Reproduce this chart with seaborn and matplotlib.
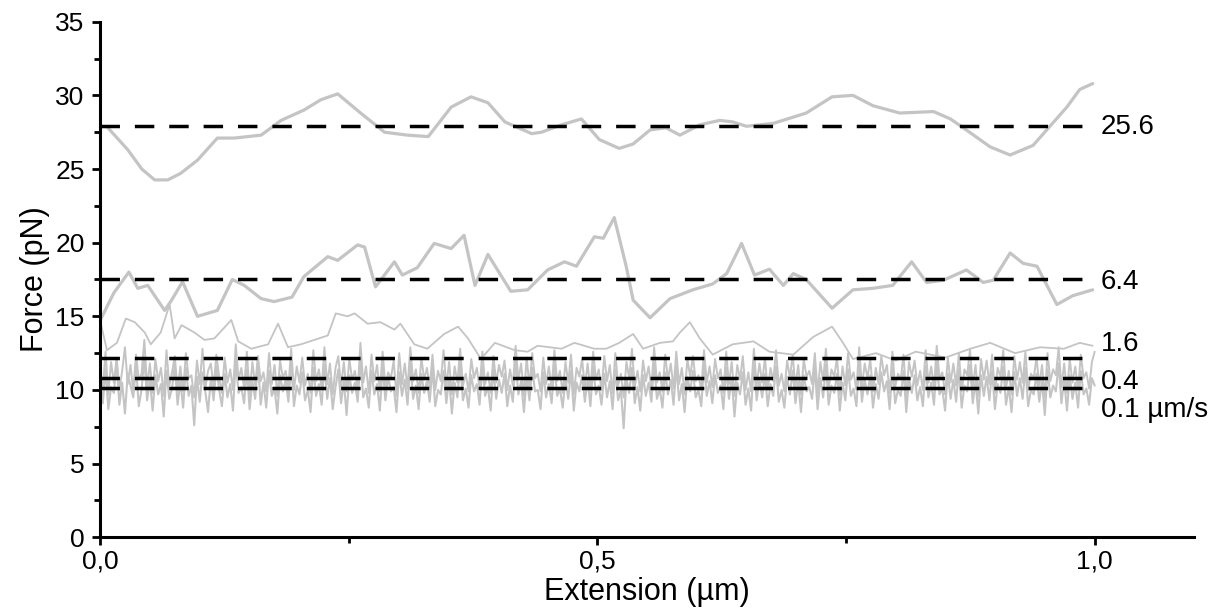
import numpy as np
import pandas as pd
import matplotlib
matplotlib.use("Agg")
import matplotlib.pyplot as plt
from matplotlib.ticker import MultipleLocator, FixedLocator
import seaborn as sns

# ---- force–extension traces at different pulling speeds ----
# 25.6 um/s
x_256 = [0.0, 0.007, 0.028, 0.042, 0.055, 0.068, 0.081, 0.098, 0.118, 0.135, 0.162, 0.182,
         0.205, 0.222, 0.239, 0.262, 0.286, 0.309, 0.330, 0.353, 0.373, 0.390, 0.407, 0.434,
         0.444, 0.464, 0.484, 0.502, 0.522, 0.536, 0.553, 0.569, 0.583, 0.603, 0.623, 0.636,
         0.650, 0.677, 0.710, 0.736, 0.757, 0.777, 0.804, 0.838, 0.855, 0.871, 0.895, 0.915,
         0.938, 0.955, 0.972, 0.985, 0.998]
f_256 = [27.9, 27.87, 26.3, 25.0, 24.26, 24.26, 24.7, 25.6, 27.1, 27.1, 27.3, 28.3,
         29.0, 29.7, 30.1, 28.8, 27.5, 27.3, 27.2, 29.2, 29.9, 29.5, 28.2, 27.4,
         27.5, 28.0, 28.4, 27.0, 26.4, 26.7, 27.65, 27.8, 27.3, 28.0, 28.3, 28.2,
         27.9, 28.1, 28.8, 29.9, 30.0, 29.3, 28.8, 28.9, 28.4, 27.65, 26.5, 25.95,
         26.6, 27.9, 29.2, 30.4, 30.8]

# 6.4 um/s
x_64 = [0.0, 0.014, 0.029, 0.038, 0.048, 0.065, 0.072, 0.083, 0.098, 0.118, 0.133, 0.145,
        0.162, 0.175, 0.193, 0.205, 0.229, 0.239, 0.259, 0.266, 0.277, 0.296, 0.304, 0.319,
        0.336, 0.353, 0.366, 0.377, 0.390, 0.413, 0.430, 0.450, 0.467, 0.479, 0.497, 0.506,
        0.517, 0.529, 0.536, 0.553, 0.573, 0.596, 0.616, 0.630, 0.645, 0.658, 0.673, 0.687,
        0.697, 0.710, 0.736, 0.757, 0.777, 0.797, 0.816, 0.831, 0.848, 0.871, 0.888, 0.898,
        0.915, 0.928, 0.942, 0.962, 0.978, 0.998]
f_64 = [14.7, 16.6, 18.0, 16.9, 17.1, 15.4, 16.1, 17.35, 15.0, 15.4, 17.5, 17.1,
        16.2, 16.0, 16.3, 17.7, 19.05, 18.8, 19.85, 19.7, 17.0, 18.7, 17.8, 18.3,
        19.95, 19.6, 20.5, 17.1, 19.2, 16.7, 16.8, 18.15, 18.7, 18.4, 20.4, 20.3,
        21.7, 18.4, 16.1, 14.9, 16.2, 16.8, 17.2, 17.9, 19.95, 17.8, 18.2, 17.1,
        17.9, 17.5, 15.55, 16.8, 16.9, 17.1, 18.7, 17.3, 17.45, 18.15, 17.3, 17.45,
        19.3, 18.6, 18.4, 15.8, 16.4, 16.8]

# 1.6 um/s
x_16 = [0.0, 0.007, 0.017, 0.026, 0.035, 0.045, 0.051, 0.061, 0.070, 0.075, 0.082, 0.095,
        0.105, 0.115, 0.132, 0.139, 0.152, 0.169, 0.179, 0.189, 0.202, 0.229, 0.237, 0.249,
        0.256, 0.269, 0.282, 0.296, 0.302, 0.316, 0.329, 0.346, 0.360, 0.370, 0.383, 0.397,
        0.417, 0.430, 0.440, 0.464, 0.477, 0.497, 0.509, 0.522, 0.536, 0.546, 0.563, 0.576,
        0.583, 0.593, 0.603, 0.616, 0.636, 0.657, 0.673, 0.697, 0.717, 0.736, 0.747, 0.757,
        0.780, 0.800, 0.820, 0.850, 0.875, 0.895, 0.920, 0.945, 0.969, 0.985, 0.998]
f_16 = [14.75, 12.7, 13.2, 14.85, 14.6, 13.9, 13.1, 13.9, 15.8, 13.5, 14.4, 13.9,
        13.4, 13.5, 14.75, 13.3, 12.8, 13.1, 14.5, 12.9, 13.1, 13.7, 15.2, 15.0,
        15.2, 14.5, 14.6, 14.1, 14.5, 13.1, 12.8, 13.8, 14.3, 13.5, 12.1, 13.2,
        12.7, 12.6, 13.0, 12.8, 13.2, 12.8, 12.8, 13.2, 13.8, 12.8, 13.2, 13.3,
        13.9, 14.6, 13.5, 12.4, 13.1, 13.3, 12.6, 12.4, 13.6, 14.3, 13.2, 12.1,
        12.5, 12.0, 12.6, 12.2, 12.8, 13.2, 12.5, 12.9, 12.8, 13.2, 13.0]

# 0.4 um/s (noisy, evenly sampled)
f_04 = [11.4, 10.1, 12.6, 9.7, 11.9, 10.5, 12.2, 10.0, 11.3, 12.9, 10.4, 11.7, 9.9, 12.4, 10.7, 11.1, 13.4, 10.2, 11.8, 9.8,
        12.1, 10.6, 11.5, 9.6, 12.7, 10.3, 11.2, 12.3, 10.0, 11.6, 9.9, 12.5, 10.8, 11.0, 9.5, 12.0, 10.4, 12.8, 10.1, 11.3,
        11.8, 10.2, 12.4, 10.9, 9.8, 12.2, 10.5, 11.4, 10.0, 13.1, 10.7, 11.5, 10.1, 12.6, 9.7, 11.9, 10.3, 12.3, 10.6, 11.2,
        9.9, 12.5, 10.4, 11.7, 9.6, 12.0, 10.8, 11.3, 10.2, 12.8, 10.0, 11.6, 10.5, 12.2, 10.3, 11.1, 9.8, 12.7, 10.6, 11.4,
        10.1, 12.9, 10.4, 11.8, 9.7, 11.5, 12.3, 10.2, 11.9, 9.9, 12.1, 10.7, 11.3, 10.0, 13.2, 10.5, 11.6, 9.8, 12.4, 10.6,
        11.7, 9.9, 12.6, 10.3, 11.2, 10.8, 12.0, 9.6, 12.5, 10.4, 11.8, 10.1, 12.9, 10.6, 11.4, 9.8, 12.2, 10.7, 11.5, 10.2,
        12.4, 10.0, 11.3, 10.6, 12.7, 10.2, 11.9, 9.7, 11.6, 10.5, 12.8, 10.3, 11.1, 9.9, 12.1, 10.8, 11.5, 10.1, 12.6, 10.4,
        11.2, 9.8, 12.3, 10.5, 11.7, 10.9, 12.0, 10.0, 11.4, 10.3, 13.0, 10.7, 11.8, 9.6, 12.2, 10.2, 12.5, 10.8, 11.1, 9.9,
        12.2, 10.4, 11.6, 10.1, 12.7, 10.6, 11.3, 9.8, 11.9, 10.5, 12.4, 9.7, 11.5, 10.9, 12.1, 10.2, 11.8, 10.0, 12.6, 10.7,
        11.4, 10.0, 12.3, 10.6, 11.7, 9.8, 12.5, 10.3, 11.1, 9.5, 11.9, 10.8, 12.8, 10.2, 11.3, 9.9, 12.0, 10.6, 11.6, 10.1,
        12.9, 10.5, 11.2, 9.9, 12.4, 10.7, 11.8, 10.1, 12.6, 10.4, 11.5, 9.7, 12.1, 10.9, 12.3, 10.6, 11.0, 10.0, 12.7, 10.5,
        11.6, 10.2, 12.1, 10.8, 11.4, 9.8, 12.6, 10.4, 11.9, 9.6, 11.7, 10.7, 12.3, 10.0, 11.2, 9.9, 12.8, 10.3, 11.8, 10.5,
        12.2, 10.0, 11.5, 10.6, 12.7, 10.3, 11.1, 9.9, 12.0, 10.8, 12.4, 10.2, 11.7, 9.7, 12.1, 10.9, 11.3, 10.4, 12.5, 9.8,
        11.9, 10.6, 12.8, 10.1, 11.4, 10.9, 12.2, 9.7, 11.6, 10.3, 12.5, 10.7, 11.2, 10.0, 12.9, 10.2, 11.8, 10.8, 12.1, 9.9,
        11.5, 10.4, 12.3, 11.0, 11.7, 9.8, 12.6, 10.2, 11.1, 10.7, 12.4, 9.6, 11.9, 10.9, 12.0, 10.3, 11.3, 10.0, 12.7, 10.5,
        11.6, 10.1, 13.0, 10.8, 11.2, 9.7, 12.2, 10.5, 11.8, 10.3, 12.5, 9.9, 11.4, 11.0, 12.8, 10.2, 11.7, 9.6, 12.1, 10.7,
        12.0, 10.4, 12.4, 9.8, 11.5, 10.9, 12.7, 10.1, 11.3, 9.7, 12.3, 10.7, 11.9, 10.5, 12.6, 10.0, 11.1, 10.8, 12.2, 10.3,
        11.7, 9.5, 12.5, 10.6, 11.4, 11.0, 12.9, 10.2, 11.8, 9.8, 12.1, 10.5, 11.6, 10.0, 12.4, 10.8, 11.2, 10.1, 11.9, 12.6]

# 0.1 um/s (noisy, evenly sampled)
f_01 = [10.6, 9.1, 11.4, 8.7, 10.2, 9.8, 11.8, 9.0, 10.5, 8.4, 11.1, 10.3, 9.5, 11.6, 8.9, 10.0, 12.2, 9.3, 10.7, 8.6,
        11.0, 9.7, 10.4, 8.2, 11.3, 9.4, 10.1, 11.7, 9.0, 10.6, 8.8, 11.5, 9.6, 10.3, 7.6, 10.9, 9.2, 11.2, 9.9, 8.5,
        10.8, 9.3, 11.6, 10.0, 8.9, 11.1, 9.5, 10.4, 8.6, 12.0, 9.8, 10.2, 9.1, 11.4, 8.7, 10.6, 9.4, 11.9, 9.0, 10.5,
        8.8, 11.3, 9.6, 10.1, 8.4, 11.0, 9.9, 10.7, 9.2, 11.8, 8.9, 10.3, 9.7, 11.2, 9.3, 10.0, 8.5, 11.5, 9.6, 10.4,
        9.0, 11.7, 9.4, 10.8, 8.7, 10.2, 11.4, 9.1, 10.6, 8.3, 11.0, 9.8, 10.5, 9.2, 12.1, 9.5, 10.1, 8.8, 11.3, 9.7,
        10.4, 8.6, 11.6, 9.3, 10.9, 9.9, 10.2, 8.5, 11.2, 9.6, 10.7, 9.0, 11.9, 9.4, 10.3, 8.7, 11.1, 9.8, 10.6, 9.2,
        11.5, 8.9, 10.0, 9.7, 11.3, 9.1, 10.8, 8.4, 10.5, 9.5, 11.8, 9.3, 10.1, 8.8, 11.0, 9.9, 10.4, 9.0, 11.6, 9.6,
        10.2, 8.6, 11.4, 9.4, 10.7, 9.8, 11.1, 8.9, 10.3, 9.2, 12.0, 9.7, 10.6, 8.5, 10.9, 9.3, 11.5, 9.9, 10.0, 8.7,
        11.2, 9.5, 10.4, 9.1, 11.7, 9.6, 10.1, 8.8, 10.8, 9.4, 11.3, 8.6, 10.5, 9.9, 11.0, 9.2, 10.7, 8.9, 11.6, 9.7,
        10.3, 9.0, 11.1, 9.5, 10.6, 8.7, 11.4, 9.3, 10.0, 7.4, 10.8, 9.8, 11.5, 9.1, 10.2, 8.6, 11.0, 9.6, 10.5, 9.2,
        11.8, 9.4, 10.1, 8.8, 11.2, 9.7, 10.7, 9.0, 11.6, 9.3, 10.4, 8.5, 10.9, 9.9, 11.3, 9.5, 10.0, 8.9, 11.7, 9.6,
        10.6, 9.1, 11.0, 9.8, 10.3, 8.7, 11.5, 9.4, 10.8, 8.2, 10.5, 9.7, 11.2, 9.0, 10.1, 8.6, 11.9, 9.3, 10.7, 9.5,
        11.1, 8.9, 10.4, 9.6, 11.6, 9.2, 10.0, 8.8, 10.9, 9.7, 11.3, 9.1, 10.6, 8.5, 11.0, 9.9, 10.2, 9.4, 11.5, 8.7,
        10.8, 9.5, 11.7, 9.0, 10.3, 9.8, 11.1, 8.6, 10.5, 9.3, 11.4, 9.6, 10.1, 8.9, 11.8, 9.2, 10.7, 9.7, 11.0, 8.8,
        10.4, 9.4, 11.2, 9.9, 10.6, 8.7, 11.5, 9.1, 10.0, 9.6, 11.3, 8.5, 10.8, 9.8, 11.0, 9.3, 10.2, 8.9, 11.6, 9.5,
        10.5, 9.0, 11.9, 9.7, 10.1, 8.6, 11.1, 9.4, 10.7, 9.2, 11.4, 8.8, 10.3, 9.9, 11.7, 9.1, 10.6, 8.4, 11.0, 9.6,
        10.9, 9.3, 11.3, 8.7, 10.4, 9.8, 11.6, 9.0, 10.2, 8.5, 11.2, 9.6, 10.8, 9.4, 11.5, 8.9, 10.0, 9.7, 11.1, 9.2,
        10.6, 8.3, 11.4, 9.5, 10.3, 9.9, 11.8, 9.1, 10.7, 8.6, 11.0, 9.4, 10.5, 8.8, 11.3, 9.7, 10.1, 9.0, 10.8, 10.3]

# mean force levels (dashed) and their speed labels
levels = [27.9, 17.55, 12.15, 10.8, 10.12]
level_labels = ["25.6", "6.4", "1.6", "0.4", "0.1 µm/s"]
label_y = [27.85, 17.3, 13.1, 10.55, 8.65]

x_ticks = [0.0, 0.5, 1.0]
x_ticklabels = ["0,0", "0,5", "1,0"]

# ---- styling ----
sns.set_theme(style="ticks")
plt.rcParams["font.family"] = ["Liberation Sans", "DejaVu Sans"]
plt.rcParams["text.color"] = "black"
plt.rcParams["axes.labelcolor"] = "black"

GREY = "#c4c4c4"

fig = plt.figure(figsize=(12.21, 6.13), dpi=100)
ax = fig.add_axes([0.0819, 0.1235, 0.978 - 0.0819, 0.9646 - 0.1235])

x_noise = np.linspace(0.0, 1.0, len(f_01))
df_noise = pd.DataFrame({"x": x_noise, "f01": f_01, "f04": f_04})

sns.lineplot(data=df_noise, x="x", y="f01", ax=ax, color=GREY, lw=1.5,
             estimator=None, sort=False)
sns.lineplot(data=df_noise, x="x", y="f04", ax=ax, color=GREY, lw=1.4,
             estimator=None, sort=False)
sns.lineplot(x=x_16, y=f_16, ax=ax, color=GREY, lw=1.3, estimator=None, sort=False)
sns.lineplot(x=x_64, y=f_64, ax=ax, color=GREY, lw=2.3, estimator=None, sort=False)
sns.lineplot(x=x_256, y=f_256, ax=ax, color=GREY, lw=2.3, estimator=None, sort=False)

x_end = max(x_256)
ax.hlines(levels, 0.0, x_end, colors="black", linestyles=(0, (5.6, 4.3)), lw=2.5)
for lv, txt in zip(label_y, level_labels):
    ax.text(x_end + 0.008, lv, txt, fontsize=20, va="center", ha="left", color="black")

ax.set_xlim(0.0, 1.1)
ax.set_ylim(0, 35)
ax.xaxis.set_major_locator(FixedLocator(x_ticks))
ax.set_xticklabels(x_ticklabels)
ax.xaxis.set_minor_locator(FixedLocator([0.25, 0.75]))
ax.yaxis.set_major_locator(MultipleLocator(5))
ax.yaxis.set_minor_locator(MultipleLocator(2.5))

for side in ["top", "right"]:
    ax.spines[side].set_visible(False)
for side in ["left", "bottom"]:
    ax.spines[side].set_linewidth(2.2)
    ax.spines[side].set_color("black")

ax.tick_params(which="major", direction="out", length=6, width=2.0, colors="black",
               labelsize=19)
ax.tick_params(which="minor", direction="out", length=4, width=2.0, colors="black")
ax.tick_params(axis="y", which="major", pad=5)
ax.tick_params(axis="x", which="major", pad=3)

ax.set_xlabel("Extension (µm)", fontsize=22, labelpad=2)
ax.set_ylabel("Force (pN)", fontsize=22, labelpad=4)
ax.set_facecolor("white")
fig.patch.set_facecolor("white")

fig.savefig("out.png", dpi=100)
